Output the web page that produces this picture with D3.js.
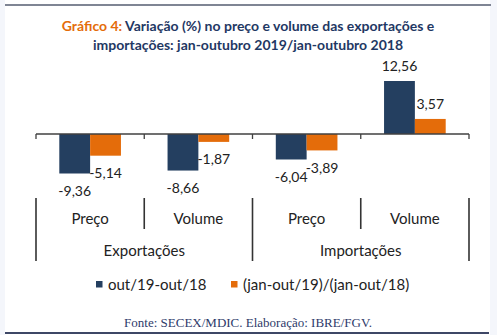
<!DOCTYPE html>
<html>
<head>
<meta charset="utf-8">
<script src="https://cdn.jsdelivr.net/npm/d3@7"></script>
<style>
  html, body { margin: 0; padding: 0; background: #f4f6fb; }
  svg { display: block; }
</style>
</head>
<body>
<svg id="chart" width="497" height="335"></svg>
<script>
// ── Data ──────────────────────────────────────────────────────
const GROUPS = ["Exportações", "Importações"];
const CATEGORIES = ["Preço", "Volume", "Preço", "Volume"];
const SERIES = ["out/19-out/18", "(jan-out/19)/(jan-out/18)"];
const MONTH_VALUES = [-9.36, -8.66, -6.04, 12.56];   // out/19-out/18
const YTD_VALUES = [-5.14, -1.87, -3.89, 3.57];      // (jan-out/19)/(jan-out/18)

const COLORS = ["#243f60", "#e46c0a"];
const W = 497, H = 335;
const FONT = "Lato, 'Open Sans', sans-serif";

const svg = d3.select("#chart");

// white panel with top / bottom rules
svg.append("rect").attr("x", 5).attr("y", 0).attr("width", 485).attr("height", H).attr("fill", "#ffffff");
svg.append("line").attr("x1", 5).attr("x2", 491).attr("y1", 5).attr("y2", 5)
    .attr("stroke", "#7f8594").attr("stroke-width", 2);
svg.append("line").attr("x1", 5).attr("x2", 489).attr("y1", 333).attr("y2", 333)
    .attr("stroke", "#3e4766").attr("stroke-width", 2);

// ── Title ────────────────────────────────────────────────────
const title = svg.append("text")
    .attr("text-anchor", "middle")
    .style("font-family", FONT)
    .style("font-weight", "bold")
    .style("font-size", "14px")
    .attr("fill", "#1f3864");
const t1 = title.append("tspan").attr("x", 248).attr("y", 31);
t1.append("tspan").attr("fill", "#e46c0a").text("Gráfico 4:");
t1.append("tspan").text(" Variação (%) no preço e volume das exportações e");
title.append("tspan").attr("x", 248).attr("y", 50)
    .text("importações: jan-outubro 2019/jan-outubro 2018");

// ── Scales ───────────────────────────────────────────────────
const idx = CATEGORIES.map((_, i) => i);
const x0 = d3.scaleBand().domain(idx).range([36, 469]).padding(0);
const x1 = d3.scaleBand().domain([0, 1]).range([23.3, x0.bandwidth() - 23.3]).padding(0);
const y = d3.scaleLinear().domain([-9.36, 12.56]).range([173.5, 81]);

const rows = idx.map(i => ({ i, vals: [MONTH_VALUES[i], YTD_VALUES[i]] }));
const fmt = v => d3.format(".2f")(v).replace(".", ",").replace("\u2212", "-");

// ── Bars ─────────────────────────────────────────────────────
const g = svg.append("g");
const catG = g.selectAll("g.cat").data(rows).join("g")
    .attr("class", "cat")
    .attr("transform", d => `translate(${x0(d.i)},0)`);

catG.selectAll("rect").data(d => d.vals.map((v, s) => ({ v, s }))).join("rect")
    .attr("x", d => x1(d.s))
    .attr("width", x1.bandwidth())
    .attr("y", d => y(Math.max(0, d.v)))
    .attr("height", d => Math.abs(y(d.v) - y(0)))
    .attr("fill", d => COLORS[d.s]);

catG.selectAll("text").data(d => d.vals.map((v, s) => ({ v, s }))).join("text")
    .attr("x", d => x1(d.s) + x1.bandwidth() / 2)
    .attr("y", d => d.v < 0 ? y(d.v) + 22.5 : y(d.v) - 10)
    .attr("text-anchor", "middle")
    .style("font-family", FONT)
    .style("font-size", "14px")
    .attr("fill", "#222222")
    .text(d => fmt(d.v));

// ── Zero axis with ticks ────────────────────────────────────
const axisG = svg.append("g").attr("transform", `translate(0,${y(0)})`);
axisG.call(d3.axisBottom(x0).tickValues([]).tickSizeOuter(0));
axisG.select(".domain").remove();
axisG.append("line").attr("x1", 36).attr("x2", 469).attr("stroke", "#404040").attr("stroke-width", 1.3);
const bounds = idx.map(i => x0(i)).concat([x0.range()[1]]);
axisG.selectAll("line.tk").data(bounds).join("line")
    .attr("class", "tk")
    .attr("x1", d => d).attr("x2", d => d)
    .attr("y1", 0).attr("y2", 5)
    .attr("stroke", "#404040").attr("stroke-width", 1.3);

// ── Category labels (two levels) ────────────────────────────
const catAxis = svg.append("g");
catAxis.selectAll("line.inner").data(bounds).join("line")
    .attr("class", "inner")
    .attr("x1", d => d).attr("x2", d => d)
    .attr("y1", 198)
    .attr("y2", (d, i) => i % 2 === 0 ? 261 : 229)
    .attr("stroke", "#333333").attr("stroke-width", 1.6);

catAxis.selectAll("text.cat").data(idx).join("text")
    .attr("class", "cat")
    .attr("x", i => x0(i) + x0.bandwidth() / 2)
    .attr("y", 224)
    .attr("text-anchor", "middle")
    .style("font-family", FONT)
    .style("font-size", "15px")
    .attr("fill", "#222222")
    .text(i => CATEGORIES[i]);

catAxis.selectAll("text.grp").data(GROUPS).join("text")
    .attr("class", "grp")
    .attr("x", (d, i) => (x0(i * 2) + x0(i * 2 + 1) + x0.bandwidth()) / 2)
    .attr("y", 256)
    .attr("text-anchor", "middle")
    .style("font-family", FONT)
    .style("font-size", "15px")
    .attr("fill", "#222222")
    .text(d => d);

// ── Legend ──────────────────────────────────────────────────
const legendX = [96, 231];
const leg = svg.append("g").selectAll("g").data(SERIES).join("g")
    .attr("transform", (d, i) => `translate(${legendX[i]},281)`);
leg.append("rect").attr("width", 6.5).attr("height", 6.5).attr("fill", (d, i) => COLORS[i]);
leg.append("text")
    .attr("x", 12).attr("y", 9)
    .style("font-family", FONT)
    .style("font-size", "15px")
    .attr("fill", "#222222")
    .text(d => d);

// ── Source ──────────────────────────────────────────────────
svg.append("text")
    .attr("x", 248).attr("y", 326.5)
    .attr("text-anchor", "middle")
    .style("font-family", "'Liberation Serif', 'DejaVu Serif', serif")
    .style("font-size", "13px")
    .attr("fill", "#2e3a6a")
    .text("Fonte: SECEX/MDIC. Elaboração: IBRE/FGV.");
</script>
</body>
</html>
